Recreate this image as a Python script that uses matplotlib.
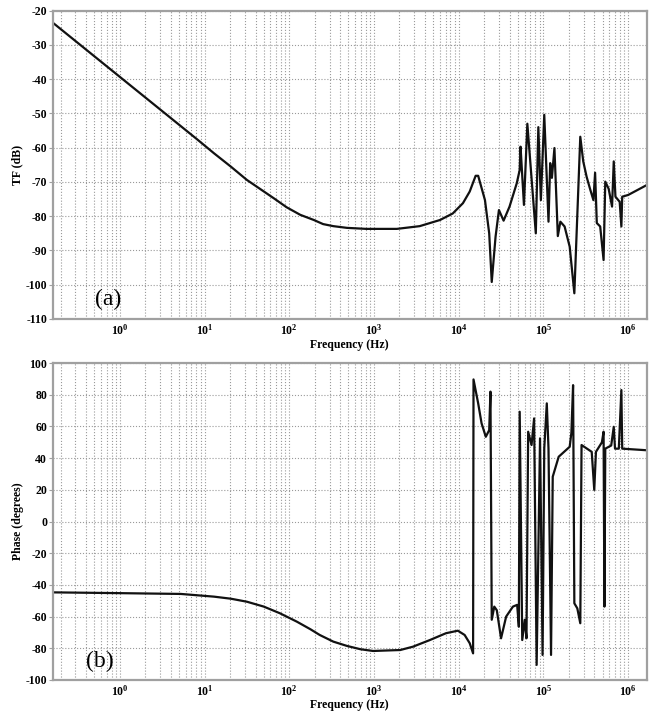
#!/usr/bin/env python3
"""
Bode-like plot: transfer function magnitude (a) and phase (b) vs frequency.
Output: out.png (660x712 px)
"""

import math
import matplotlib
matplotlib.use("Agg")
import matplotlib.pyplot as plt
import matplotlib.ticker as ticker

# ---------------------------------------------------------------------------
# Dati
# ---------------------------------------------------------------------------
freq_tf = [0.16, 8.13, 12.9, 20.4, 31.6, 45.7, 66.1, 93.3, 135.0, 195.0,
           251.0, 331.0, 479.0, 813.0, 1862.0, 3467.0, 6026.0, 8511.0,
           11220.0, 13490.0, 15850.0, 16980.0, 20420.0, 22910.0, 24550.0,
           27230.0, 29850.0, 33880.0, 39810.0, 48420.0, 52480.0, 53700.0,
           58900.0, 64600.0, 81300.0, 87100.0, 93300.0, 102300.0, 114800.0,
           120200.0, 125900.0, 134900.0, 147900.0, 158500.0, 177800.0,
           204200.0, 231700.0, 272300.0, 295100.0, 323600.0, 354800.0,
           389000.0, 407400.0, 426600.0, 467700.0, 512900.0, 537000.0,
           588800.0, 645700.0, 676100.0, 707900.0, 794300.0, 831800.0,
           851100.0, 1.0e6, 1.66e6]
tf_db = [-23.4, -57.5, -61.6, -65.5, -69.4, -72.1, -74.8, -77.4, -79.6, -81.1,
         -82.3, -82.9, -83.4, -83.7, -83.7, -82.9, -81.1, -79.2,
         -76.2, -72.8, -68.2, -68.2, -75.3, -85.0, -99.2,
         -86.0, -78.2, -81.3, -77.2, -70.4, -66.5, -59.7,
         -76.7, -53.0, -85.0, -54.0, -75.3, -50.4, -81.6,
         -64.5, -68.8, -60.1, -85.8, -81.6, -83.0,
         -88.9, -102.5, -56.8, -64.0, -68.5, -72.0,
         -75.3, -67.3, -82.0, -83.0, -92.8, -69.9,
         -72.0, -77.2, -64.0, -74.3, -75.8, -83.0,
         -74.3, -73.8, -70.9]

freq_ph = [0.16, 1.0, 5.25, 12.9, 20.4, 31.6, 50.1, 77.6, 123.0, 178.0,
           229.0, 331.0, 479.0, 692.0, 977.0, 2042.0, 2884.0, 4571.0,
           7079.0, 9772.0, 11750.0, 13490.0, 14790.0, 14960.0, 16980.0,
           18620.0, 20890.0, 22910.0, 23710.0, 24550.0, 26300.0, 28180.0,
           31620.0, 36310.0, 43650.0, 48980.0, 51290.0, 52480.0, 56230.0,
           60260.0, 63100.0, 66070.0, 72440.0, 77620.0, 83180.0, 91200.0,
           97720.0, 102300.0, 109600.0, 114800.0, 123000.0, 128800.0,
           151400.0, 204200.0, 213800.0, 223900.0, 231700.0, 251200.0,
           272300.0, 281800.0, 371500.0, 398100.0, 416900.0, 490000.0,
           512900.0, 524800.0, 537000.0, 631000.0, 676100.0, 699800.0,
           776000.0, 831800.0, 851100.0, 1.66e6]
phase_deg = [-44.7, -45.2, -45.7, -47.4, -48.7, -50.6, -53.7, -57.9, -63.2, -68.0,
             -71.6, -75.8, -78.5, -80.6, -81.7, -81.1, -79.0, -74.8,
             -70.5, -68.9, -71.6, -76.8, -83.2, 89.7, 74.6,
             62.0, 53.5, 57.7, 82.0, -62.0, -53.7, -56.0,
             -73.7, -60.0, -53.7, -52.6, -66.4, 69.3, -74.8,
             -62.0, -73.7, 56.7, 48.3, 65.1, -90.5, 52.5,
             -84.2, 46.2, 74.6, 46.0, -84.2, 28.3,
             40.9, 47.2, 56.0, 86.1, -51.6, -54.8,
             -64.2, 48.3, 44.0, 20.0, 44.0, 50.0,
             56.7, -53.7, 46.0, 48.0, 59.8, 46.0,
             46.0, 83.0, 46.0, 45.0]

TF_TICKS = list(range(-110, -19, 10))
PH_TICKS = list(range(-100, 101, 20))
X_DECADES = [1.0, 10.0, 100.0, 1000.0, 1.0e4, 1.0e5, 1.0e6]
XLIM = (0.162, 1.66e6)

# ---------------------------------------------------------------------------
# Stile
# ---------------------------------------------------------------------------
matplotlib.rcParams.update({
    "font.family": "Liberation Serif",
    "font.weight": "bold",
    "mathtext.fontset": "custom",
    "mathtext.rm": "Liberation Serif:bold",
    "mathtext.bf": "Liberation Serif:bold",
    "mathtext.it": "Liberation Serif:italic:bold",
})

LINE_COL = "#111111"
GRID_COL = "#9a9a9a"
SPINE_COL = "#a0a0a0"

fig = plt.figure(figsize=(6.6, 7.12), dpi=100)
ax1 = fig.add_axes([0.080, 0.552, 0.900, 0.433])
ax2 = fig.add_axes([0.080, 0.045, 0.900, 0.445])


def decade_label(v, pos):
    return r"$\mathbf{10^{%d}}$" % round(math.log10(v))


def style_axis(ax, yticks, ylabel, xlabel_y):
    ax.set_xscale("log")
    ax.set_xlim(*XLIM)
    ax.set_ylim(yticks[0], yticks[-1])
    ax.set_yticks(yticks)
    ax.set_yticklabels([str(t) for t in yticks])
    ax.xaxis.set_major_locator(ticker.FixedLocator(X_DECADES))
    ax.xaxis.set_minor_locator(ticker.LogLocator(base=10, subs=range(2, 10), numticks=20))
    ax.xaxis.set_major_formatter(ticker.FuncFormatter(decade_label))
    ax.xaxis.set_minor_formatter(ticker.NullFormatter())
    ax.grid(True, which="both", axis="x", linestyle=":", color=GRID_COL, linewidth=0.8)
    ax.grid(True, which="major", axis="y", linestyle=":", color=GRID_COL, linewidth=0.8)
    ax.tick_params(axis="both", which="both", length=0, labelsize=8.5, pad=3)
    ax.tick_params(axis="y", which="major", length=3, color=SPINE_COL, direction="out", pad=1)
    for sp in ax.spines.values():
        sp.set_color(SPINE_COL)
        sp.set_linewidth(1.6)
    ax.set_ylabel(ylabel, fontsize=8.5, fontweight="bold")
    ax.yaxis.set_label_coords(-0.049, 0.5)
    ax.set_xlabel("Frequency (Hz)", fontsize=8.5, fontweight="bold")
    ax.xaxis.set_label_coords(0.5, xlabel_y)
    ax.set_axisbelow(True)


# (a) modulo
ax1.plot(freq_tf, tf_db, color=LINE_COL, linewidth=1.6)
style_axis(ax1, TF_TICKS, "TF (dB)", -0.064)
ax1.text(0.093, 0.062, "(a)", transform=ax1.transAxes, fontsize=17,
         fontweight="normal", ha="center", va="center")

# (b) fase
ax2.plot(freq_ph, phase_deg, color=LINE_COL, linewidth=1.6)
style_axis(ax2, PH_TICKS, "Phase (degrees)", -0.060)
ax2.text(0.079, 0.057, "(b)", transform=ax2.transAxes, fontsize=17,
         fontweight="normal", ha="center", va="center")

fig.savefig("out.png", dpi=100)
plt.close(fig)
